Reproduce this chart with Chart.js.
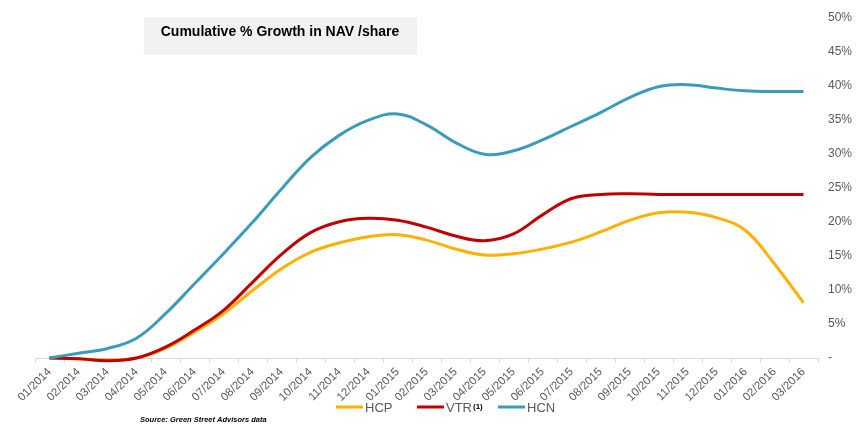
<!DOCTYPE html>
<html>
<head>
<meta charset="utf-8">
<title>Cumulative % Growth in NAV /share</title>
<script src="https://cdn.jsdelivr.net/npm/chart.js@4.4.1/dist/chart.umd.min.js"></script>
<style>
  html, body { margin: 0; padding: 0; background: #ffffff; }
  #wrap { position: relative; width: 862px; height: 429px; }
</style>
</head>
<body>
<div id="wrap"><canvas id="navChart"></canvas></div>
<script>
// Months on the x axis
const months = [
  '01/2014', '02/2014', '03/2014', '04/2014', '05/2014', '06/2014', '07/2014', '08/2014', '09/2014',
  '10/2014', '11/2014', '12/2014', '01/2015', '02/2015', '03/2015', '04/2015', '05/2015', '06/2015',
  '07/2015', '08/2015', '09/2015', '10/2015', '11/2015', '12/2015', '01/2016', '02/2016', '03/2016'
];

// Cumulative growth, %
const hcpValues = [
  0, -0.1, -0.3, 0, 1.4, 3.8, 6.5, 9.9, 13.1,
  15.5, 16.9, 17.8, 18.1, 17.3, 16.0, 15.1, 15.3, 16.0,
  17.0, 18.5, 20.2, 21.3, 21.4, 20.6, 18.7, 13.8, 8.1
];
const vtrValues = [
  0, -0.1, -0.4, 0, 1.6, 4.1, 7.0, 11.1, 15.2,
  18.4, 20.0, 20.5, 20.2, 19.2, 17.9, 17.2, 18.2, 21.0,
  23.4, 24.0, 24.1, 24.0, 24.0, 24.0, 24.0, 24.0, 24.0
];
const hcnValues = [
  0, 0.7, 1.4, 2.9, 6.5, 10.9, 15.3, 19.9, 24.8,
  29.4, 32.7, 34.9, 35.8, 34.2, 31.6, 29.9, 30.4, 32.0,
  34.0, 36.0, 38.2, 39.8, 40.1, 39.6, 39.2, 39.1, 39.1
];

// Y axis range
const yMin = 0;
const yMax = 50;
const yStep = 5;

const titleText = 'Cumulative % Growth in NAV /share';
const sourceText = 'Source: Green Street Advisors data';

const FONT = "'Liberation Sans', Arial, sans-serif";
const GREY = '#595959';

// --- Title box, legend and source drawn on the canvas ---
const decorPlugin = {
  id: 'decor',
  afterDraw(chart) {
    const ctx = chart.ctx;
    ctx.save();

    // title box
    ctx.fillStyle = '#F2F1F0';
    ctx.fillRect(144, 17, 273, 38);
    ctx.fillStyle = '#000000';
    ctx.font = 'bold 14px ' + FONT;
    ctx.textAlign = 'center';
    ctx.textBaseline = 'middle';
    ctx.fillText(titleText, 280, 32);

    // legend
    const items = [
      { label: 'HCP', color: chart.data.datasets[0].borderColor, x: 336, sup: '' },
      { label: 'VTR', color: chart.data.datasets[1].borderColor, x: 417, sup: '(1)' },
      { label: 'HCN', color: chart.data.datasets[2].borderColor, x: 498, sup: '' }
    ];
    const ly = 407;
    items.forEach(item => {
      ctx.strokeStyle = item.color;
      ctx.lineWidth = 3;
      ctx.beginPath();
      ctx.moveTo(item.x, ly);
      ctx.lineTo(item.x + 27, ly);
      ctx.stroke();

      ctx.fillStyle = GREY;
      ctx.font = '13px ' + FONT;
      ctx.textAlign = 'left';
      ctx.textBaseline = 'middle';
      ctx.fillText(item.label, item.x + 29, ly + 1);
      if (item.sup) {
        const w = ctx.measureText(item.label).width;
        ctx.fillStyle = '#000000';
        ctx.font = 'bold 8px ' + FONT;
        ctx.fillText(item.sup, item.x + 29 + w + 1, ly);
      }
    });

    // source note
    ctx.fillStyle = '#000000';
    ctx.font = 'italic bold 7.5px ' + FONT;
    ctx.textAlign = 'left';
    ctx.textBaseline = 'middle';
    ctx.fillText(sourceText, 140, 420);

    ctx.restore();
  }
};

const ctx = document.getElementById('navChart');

new Chart(ctx, {
  type: 'line',
  data: {
    labels: months,
    datasets: [
      { label: 'HCP', data: hcpValues, borderColor: '#FFB000', order: 3 },
      { label: 'VTR', data: vtrValues, borderColor: '#C00000', order: 2 },
      { label: 'HCN', data: hcnValues, borderColor: '#3B9BBA', order: 1 }
    ].map(ds => Object.assign(ds, {
      borderWidth: 3,
      pointRadius: 0,
      pointHoverRadius: 0,
      tension: 0.4,
      fill: false,
      clip: false
    }))
  },
  options: {
    responsive: true,
    maintainAspectRatio: false,
    animation: false,
    events: [],
    layout: { padding: { left: 35, top: 15, right: 0, bottom: 0 } },
    plugins: {
      legend: { display: false },
      title: { display: false },
      tooltip: { enabled: false }
    },
    scales: {
      x: {
        type: 'category',
        offset: true,
        grid: {
          offset: true,
          drawOnChartArea: false,
          drawTicks: true,
          tickLength: 5,
          color: '#D9D9D9'
        },
        border: { color: '#D9D9D9' },
        ticks: {
          autoSkip: false,
          minRotation: 45,
          maxRotation: 45,
          padding: 2,
          color: GREY,
          font: { family: FONT, size: 11.5 }
        },
        afterFit(scale) { scale.height = 71; }
      },
      y: {
        position: 'right',
        min: yMin,
        max: yMax,
        grid: { display: false, drawTicks: false },
        border: { display: false },
        ticks: {
          stepSize: yStep,
          padding: 10,
          color: GREY,
          font: { family: FONT, size: 12 },
          callback: (v) => v === 0 ? '-' : v + '%'
        },
        afterFit(scale) { scale.width = 44; }
      }
    }
  },
  plugins: [decorPlugin]
});
</script>
</body>
</html>
